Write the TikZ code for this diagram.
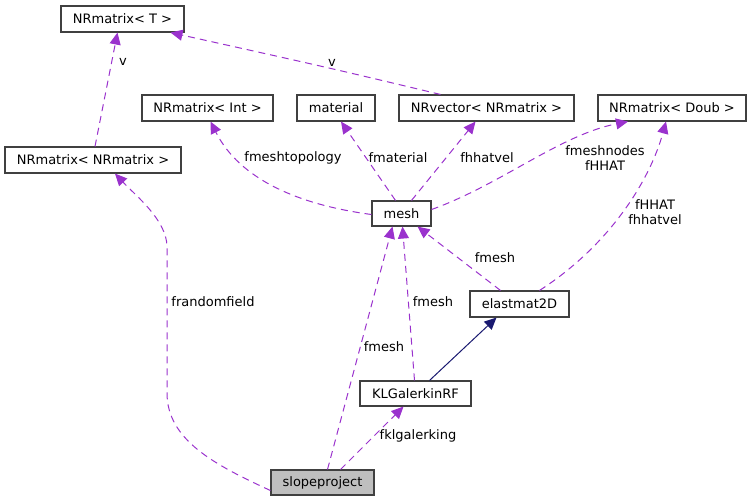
\documentclass[tikz,border=0pt]{standalone}
\usepackage{fontspec}
\setmainfont{DejaVu Sans}
\usetikzlibrary{arrows.meta}
\definecolor{relcol}{HTML}{9A32CD}
\definecolor{inhcol}{HTML}{191970}
\definecolor{boxline}{HTML}{404040}
\definecolor{curfill}{HTML}{BFBFBF}
\tikzset{
  cls/.style={draw=boxline, line width=1.1pt, fill=white, inner sep=0pt,
    font=\fontsize{13}{15}\selectfont, text=black},
  use/.style={draw=relcol, line width=1pt, dash pattern=on 7pt off 5pt,
    -{Triangle[length=12pt,width=11pt,fill=relcol]}},
  inh/.style={draw=inhcol, line width=1pt,
    -{Triangle[length=12pt,width=11pt,fill=inhcol]}},
  lbl/.style={font=\fontsize{13}{15}\selectfont, align=center, inner sep=0pt, text=black},
}
\begin{document}
\begin{tikzpicture}[x=1pt,y=-1pt]
\useasboundingbox (0,0) rectangle (751,501);
% classes
\node[cls, minimum width=123pt, minimum height=26pt] (T)    at (122.5,19)  {NRmatrix< T >};
\node[cls, minimum width=176pt, minimum height=26pt] (NN)   at (93,160)    {NRmatrix< NRmatrix >};
\node[cls, minimum width=131pt, minimum height=26pt] (Int)  at (207.5,108) {NRmatrix< Int >};
\node[cls, minimum width=78pt,  minimum height=26pt] (mat)  at (336,108)   {material};
\node[cls, minimum width=175pt, minimum height=26pt] (vec)  at (486.5,108) {NRvector< NRmatrix >};
\node[cls, minimum width=148pt, minimum height=26pt] (doub) at (672,108)   {NRmatrix< Doub >};
\node[cls, minimum width=59pt,  minimum height=25pt] (mesh) at (401.5,213.5) {mesh};
\node[cls, minimum width=99pt,  minimum height=26pt] (el)   at (519.5,304) {elastmat2D};
\node[cls, minimum width=111pt, minimum height=25pt] (kl)   at (415.5,393.5) {KLGalerkinRF};
\node[cls, fill=curfill, minimum width=103pt, minimum height=25pt] (sp) at (322.5,482.5) {slopeproject};
% member relations
\draw[use] ([xshift=2pt]NN.north) -- ([xshift=-5pt]T.south);
\node[lbl] (l1) at (123,62) {v};
\draw[use] ([xshift=-46pt]vec.north) .. controls (330,68) .. ([xshift=48pt]T.south);
\node[lbl] (l2) at (332,63) {v};
\draw[use] ([yshift=-1pt]mesh.west) .. controls (300,205) and (240,180) .. ([xshift=3pt]Int.south);
\node[lbl] (l3) at (293,158) {fmeshtopology};
\draw[use] ([xshift=-6pt]mesh.north) -- ([xshift=5pt]mat.south);
\node[lbl] (l4) at (398,158) {fmaterial};
\draw[use] ([xshift=10pt]mesh.north) -- ([xshift=-11pt]vec.south);
\node[lbl] (l5) at (487,158) {fhhatvel};
\draw[use] ([yshift=4pt]mesh.east) .. controls (500,185) and (560,135) .. ([xshift=-44pt]doub.south);
\node[lbl] (l6) at (605,158) {fmeshnodes\\fHHAT};
\draw[use] ([xshift=20pt]el.north) .. controls (610,245) and (650,180) .. ([xshift=-6pt]doub.south);
\node[lbl] (l7) at (655,212) {fHHAT\\fhhatvel};
\draw[use] ([xshift=-19pt]el.north) -- ([xshift=16pt]mesh.south);
\node[lbl] (l8) at (495,258) {fmesh};
\draw[use] ([xshift=-1pt]kl.north) -- ([xshift=1pt]mesh.south);
\node[lbl] (l9) at (433,302) {fmesh};
\draw[use] ([xshift=5pt]sp.north) -- ([xshift=-9pt]mesh.south);
\node[lbl] (l10) at (384,347) {fmesh};
\draw[use] ([xshift=18pt]sp.north) -- ([xshift=-12pt]kl.south);
\node[lbl] (l11) at (418,436) {fklgalerking};
\draw[use] ([yshift=-8pt]sp.west) .. controls (215,465) and (167,440) .. (167,393)
  -- (167,247) .. controls (167,220) and (135,195) .. ([xshift=22pt]NN.south);
\node[lbl] (l12) at (213,302) {frandomfield};
% inheritance
\draw[inh] ([xshift=14pt]kl.north) -- ([xshift=-23pt]el.south);
\end{tikzpicture}
\end{document}
